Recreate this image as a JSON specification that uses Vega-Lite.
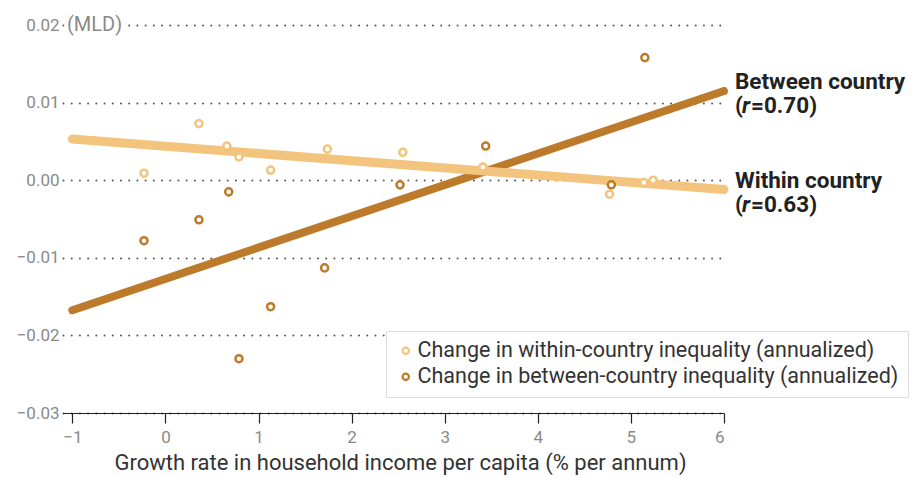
{
  "$schema": "https://vega.github.io/schema/vega-lite/v6.json",
  "width": 661,
  "height": 388,
  "autosize": {"type": "none"},
  "padding": {"left": 63, "top": 25, "right": 197, "bottom": 65},
  "background": "white",
  "config": {
    "font": "Roboto",
    "view": {"stroke": null}
  },
  "datasets": {
    "points": [
      {"series": "Change in within-country inequality (annualized)", "x": -0.23, "value": 0.0009},
      {"series": "Change in within-country inequality (annualized)", "x": 0.36, "value": 0.0073},
      {"series": "Change in within-country inequality (annualized)", "x": 0.66, "value": 0.0044},
      {"series": "Change in within-country inequality (annualized)", "x": 0.79, "value": 0.0030},
      {"series": "Change in within-country inequality (annualized)", "x": 1.13, "value": 0.0013},
      {"series": "Change in within-country inequality (annualized)", "x": 1.74, "value": 0.0040},
      {"series": "Change in within-country inequality (annualized)", "x": 2.55, "value": 0.0036},
      {"series": "Change in within-country inequality (annualized)", "x": 3.41, "value": 0.0017},
      {"series": "Change in within-country inequality (annualized)", "x": 4.77, "value": -0.0018},
      {"series": "Change in within-country inequality (annualized)", "x": 5.14, "value": -0.0003},
      {"series": "Change in within-country inequality (annualized)", "x": 5.24, "value": 0.0000},
      {"series": "Change in between-country inequality (annualized)", "x": -0.23, "value": -0.0078},
      {"series": "Change in between-country inequality (annualized)", "x": 0.36, "value": -0.0051},
      {"series": "Change in between-country inequality (annualized)", "x": 0.68, "value": -0.0015},
      {"series": "Change in between-country inequality (annualized)", "x": 0.79, "value": -0.0230},
      {"series": "Change in between-country inequality (annualized)", "x": 1.13, "value": -0.0163},
      {"series": "Change in between-country inequality (annualized)", "x": 1.71, "value": -0.0113},
      {"series": "Change in between-country inequality (annualized)", "x": 2.52, "value": -0.0006},
      {"series": "Change in between-country inequality (annualized)", "x": 3.44, "value": 0.0044},
      {"series": "Change in between-country inequality (annualized)", "x": 4.79, "value": -0.0006},
      {"series": "Change in between-country inequality (annualized)", "x": 5.15, "value": 0.0158}
    ],
    "lines": [
      {"series": "Change in between-country inequality (annualized)", "x": -1, "value": -0.01675},
      {"series": "Change in between-country inequality (annualized)", "x": 6, "value": 0.0115},
      {"series": "Change in within-country inequality (annualized)", "x": -1, "value": 0.0053},
      {"series": "Change in within-country inequality (annualized)", "x": 6, "value": -0.0012}
    ],
    "labels": [
      {"x": 6, "value": 0.0115, "name": "Between country", "stat": "=0.70)"},
      {"x": 6, "value": -0.0012, "name": "Within country", "stat": "=0.63)"}
    ],
    "notes": [
      {"x": -1.1, "value": 0.02, "note": "(MLD)"}
    ]
  },
  "encoding": {
    "x": {
      "field": "x",
      "type": "quantitative",
      "scale": {"domain": [-1.1, 6], "nice": false, "zero": false},
      "axis": {
        "values": [-1, 0, 1, 2, 3, 4, 5, 6],
        "format": "d",
        "title": "Growth rate in household income per capita (% per annum)",
        "grid": false,
        "domainColor": "#222222",
        "domainWidth": 1.2,
        "tickColor": "#222222",
        "tickSize": 10,
        "tickWidth": 1.2,
        "labelColor": "#8a8a8a",
        "labelFontSize": 17,
        "labelPadding": 6,
        "titleColor": "#333333",
        "titleFontSize": 22,
        "titleFontWeight": "normal",
        "titlePadding": 7,
        "titleX": 337,
        "zindex": 1
      }
    },
    "y": {
      "field": "value",
      "type": "quantitative",
      "scale": {"domain": [-0.03, 0.02], "nice": false, "zero": false},
      "axis": {
        "values": [-0.03, -0.02, -0.01, 0, 0.01, 0.02],
        "format": ".2f",
        "title": null,
        "domain": false,
        "ticks": false,
        "labelPadding": 4,
        "labelColor": "#8a8a8a",
        "labelFontSize": 17,
        "grid": true,
        "gridColor": "#555555",
        "gridWidth": 2,
        "gridDash": [0.01, 8.2],
        "gridCap": "round",
        "zindex": 0
      }
    }
  },
  "layer": [
    {
      "data": {"name": "lines"},
      "transform": [{"filter": "datum.series == 'Change in between-country inequality (annualized)'"}],
      "mark": {"type": "line", "strokeWidth": 8, "strokeCap": "round"},
      "encoding": {
        "color": {
          "field": "series",
          "type": "nominal",
          "scale": {
            "domain": ["Change in within-country inequality (annualized)", "Change in between-country inequality (annualized)"],
            "range": ["#F3C47E", "#BD7A2B"]
          },
          "legend": {
            "title": null,
            "orient": "none",
            "legendX": 323,
            "legendY": 306,
            "fillColor": "white",
            "strokeColor": "#dcdcdc",
            "padding": 9,
            "labelFontSize": 21.5,
            "labelColor": "#333333",
            "labelLimit": 700,
            "symbolType": "circle",
            "symbolSize": 40,
            "symbolStrokeWidth": 2.2,
            "symbolFillColor": "white",
            "labelOffset": 1,
            "rowPadding": 3,
            "encode": {"symbols": {"update": {"strokeWidth": {"value": 2.2}, "fill": {"value": "white"}}}}
          }
        }
      }
    },
    {
      "data": {"name": "lines"},
      "transform": [{"filter": "datum.series == 'Change in within-country inequality (annualized)'"}],
      "mark": {"type": "line", "strokeWidth": 9, "strokeCap": "round"},
      "encoding": {
        "color": {"field": "series", "type": "nominal"}
      }
    },
    {
      "data": {"name": "points"},
      "mark": {"type": "point", "shape": "circle", "filled": false, "fill": "white", "fillOpacity": 1, "size": 50, "strokeWidth": 2.5, "opacity": 1},
      "encoding": {
        "stroke": {
          "field": "series",
          "type": "nominal",
          "scale": {
            "domain": ["Change in within-country inequality (annualized)", "Change in between-country inequality (annualized)"],
            "range": ["#F3C47E", "#BD7A2B"]
          },
          "legend": null
        }
      }
    },
    {
      "data": {"name": "labels"},
      "mark": {"type": "text", "align": "left", "baseline": "alphabetic", "dx": 11, "dy": -2, "fontSize": 22.5, "fontWeight": "bold", "fill": "#222222"},
      "encoding": {"text": {"field": "name"}}
    },
    {
      "data": {"name": "labels"},
      "mark": {"type": "text", "align": "left", "baseline": "alphabetic", "dx": 11, "dy": 22, "fontSize": 22.5, "fontWeight": "bold", "fill": "#222222", "text": "("}
    },
    {
      "data": {"name": "labels"},
      "mark": {"type": "text", "align": "left", "baseline": "alphabetic", "dx": 18, "dy": 22, "fontSize": 22.5, "fontWeight": "bold", "fontStyle": "italic", "fill": "#222222", "text": "r"}
    },
    {
      "data": {"name": "labels"},
      "mark": {"type": "text", "align": "left", "baseline": "alphabetic", "dx": 27, "dy": 22, "fontSize": 22.5, "fontWeight": "bold", "fill": "#222222"},
      "encoding": {"text": {"field": "stat"}}
    },
    {
      "data": {"name": "notes"},
      "mark": {"type": "text", "align": "left", "baseline": "middle", "dx": 4, "fontSize": 20, "fill": "white", "stroke": "white", "strokeWidth": 8},
      "encoding": {"text": {"field": "note"}}
    },
    {
      "data": {"name": "notes"},
      "mark": {"type": "text", "align": "left", "baseline": "middle", "dx": 4, "fontSize": 20, "fill": "#8a8a8a"},
      "encoding": {"text": {"field": "note"}}
    }
  ]
}
